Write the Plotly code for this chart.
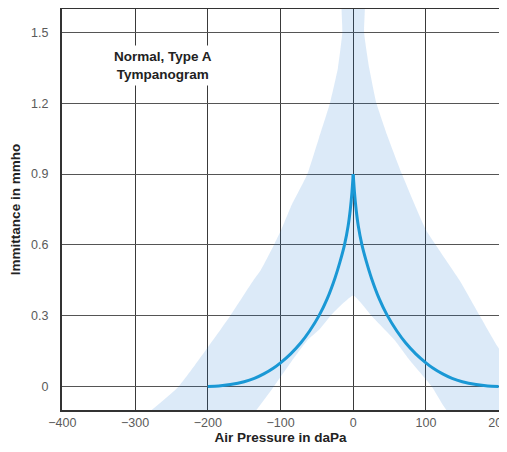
import plotly.graph_objects as go

# Tympanogram curve (air pressure in daPa, immittance in mmho), left and right branches
left_x = [-200, -185, -169, -150, -136, -123, -110, -100, -86, -72, -60, -47, -36,
          -25, -18, -12, -7, -4, -1.8, 0]
left_y = [0, 0.002, 0.008, 0.02, 0.034, 0.053, 0.077, 0.1, 0.138, 0.185, 0.235, 0.3, 0.37,
          0.46, 0.53, 0.6, 0.68, 0.75, 0.82, 0.9]
right_x = [0, 1.8, 4, 7, 12, 18, 25, 36, 47, 60, 72, 86, 100, 110, 123, 136, 150, 169,
           185, 200]
right_y = [0.9, 0.82, 0.75, 0.68, 0.6, 0.53, 0.46, 0.37, 0.3, 0.235, 0.185, 0.138, 0.1,
           0.077, 0.053, 0.034, 0.02, 0.008, 0.002, 0]

# Normal range band (outline)
band_outer_left_x = [-285, -240, -169, -137, -127, -109, -99, -86, -63, -47, -32, -21, -15, -15]
band_outer_left_y = [-0.12, 0, 0.3, 0.451, 0.494, 0.6, 0.664, 0.76, 0.9, 1.054, 1.2, 1.35, 1.5, 1.7]
band_outer_right_x = [15, 15, 22, 32, 48, 67, 100, 146, 174, 199, 235, 262]
band_outer_right_y = [1.7, 1.5, 1.35, 1.2, 1.054, 0.9, 0.664, 0.451, 0.3, 0.167, 0, -0.12]
band_inner_right_x = [134, 108, 78, 56, 25, 0]
band_inner_right_y = [-0.12, 0, 0.11, 0.2, 0.3, 0.385]
band_inner_left_x = [-31, -47, -63, -84, -109, -138]
band_inner_left_y = [0.3, 0.24, 0.196, 0.11, 0, -0.12]

x_ticks = [-400, -300, -200, -100, 0, 100, 200]
x_tick_labels = ["\u2212400", "\u2212300", "\u2212200", "\u2212100", "0", "100", "200"]
y_ticks = [0, 0.3, 0.6, 0.9, 1.2, 1.5]
y_tick_labels = ["0", "0.3", "0.6", "0.9", "1.2", "1.5"]

band_x = band_outer_left_x + band_outer_right_x + band_inner_right_x + band_inner_left_x
band_y = band_outer_left_y + band_outer_right_y + band_inner_right_y + band_inner_left_y

FONT = "Liberation Sans, Arial, sans-serif"
CURVE = dict(color="#1a98d5", width=3, shape="spline", smoothing=0.6)

fig = go.Figure()
fig.add_trace(go.Scatter(
    x=band_x, y=band_y, mode="lines", fill="toself",
    fillcolor="rgba(22,115,208,0.15)", line=dict(width=0, shape="spline", smoothing=0.4),
    hoverinfo="skip", showlegend=False))
fig.add_trace(go.Scatter(x=left_x, y=left_y, mode="lines", line=CURVE, showlegend=False))
fig.add_trace(go.Scatter(x=right_x, y=right_y, mode="lines", line=CURVE, showlegend=False))

fig.add_annotation(
    x=-261, y=1.36, xref="x", yref="y", showarrow=False,
    text="<b>Normal, Type A<br>Tympanogram</b>",
    font=dict(family=FONT, size=13.5, color="#222"),
    bgcolor="white", borderpad=3)

# page body adds an 8px offset; margins are set so the plot box lands where the reference has it
fig.update_layout(
    width=507, height=452,
    margin=dict(l=54, r=16, t=1, b=50, autoexpand=False),
    paper_bgcolor="white", plot_bgcolor="white",
    font=dict(family=FONT, size=12.5, color="#555"),
)
fig.update_xaxes(
    range=[-400.5, 200.5], tickvals=x_ticks, ticktext=x_tick_labels, automargin=False,
    ticklabeloverflow="allow",
    showgrid=True, gridcolor="#3a3a3a", gridwidth=1.2,
    showline=True, linecolor="#333", linewidth=2, mirror=True,
    zeroline=False, ticks="", tickfont=dict(size=12.5, color="#5a5a5a"),
    title=dict(text="<b>Air Pressure in daPa</b>", standoff=3,
               font=dict(size=13.5, color="#222")),
)
fig.update_yaxes(
    range=[-0.1, 1.6], tickvals=y_ticks, ticktext=y_tick_labels, automargin=False,
    ticklabeloverflow="allow",
    showgrid=True, gridcolor="#555", gridwidth=1.2,
    showline=True, linecolor="#333", linewidth=2, mirror=True,
    zeroline=False, ticks="", ticklabelstandoff=9,
    tickfont=dict(size=12.5, color="#5a5a5a"),
    title=dict(text="<b>Immittance in mmho</b>", standoff=8,
               font=dict(size=13.5, color="#222")),
)

fig.write_html("out.html")
